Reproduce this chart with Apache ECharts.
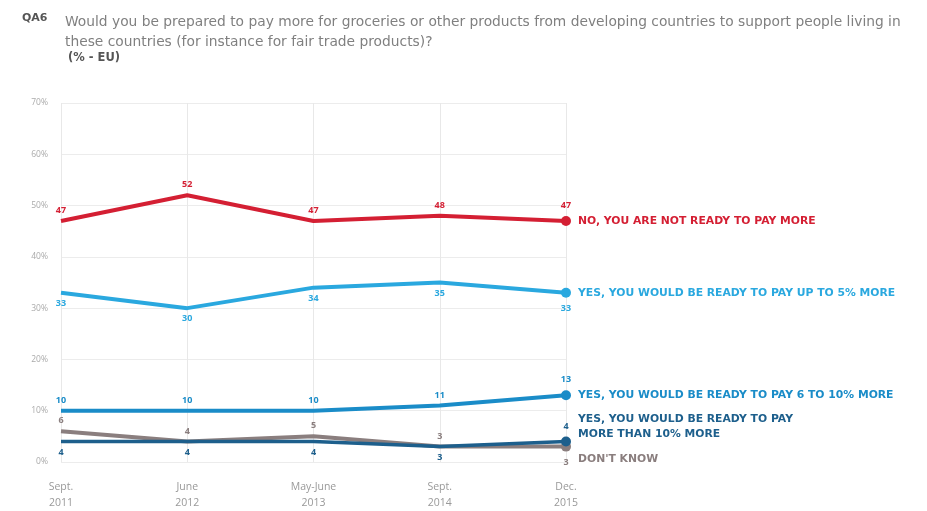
<!DOCTYPE html>
<html>
<head>
<meta charset="utf-8">
<script src="https://cdn.jsdelivr.net/npm/echarts@6/dist/echarts.min.js"></script>
<style>
  html, body { margin: 0; padding: 0; background: #fff; }
  #chart { width: 927px; height: 511px; }
</style>
</head>
<body>
<div id="chart"></div>
<script>
// Survey waves (two-line axis labels)
const waves = ['Sept.\n2011', 'June\n2012', 'May-June\n2013', 'Sept.\n2014', 'Dec.\n2015'];

// Answer shares, % of EU respondents
const notReady = [47, 52, 47, 48, 47];
const upTo5 = [33, 30, 34, 35, 33];
const from6to10 = [10, 10, 10, 11, 13];
const moreThan10 = [4, 4, 4, 3, 4];
const dontKnow = [6, 4, 5, 3, 3];

const seriesNames = [
  'NO, YOU ARE NOT READY TO PAY MORE',
  'YES, YOU WOULD BE READY TO PAY UP TO 5% MORE',
  'YES, YOU WOULD BE READY TO PAY 6 TO 10% MORE',
  'YES, YOU WOULD BE READY TO PAY\nMORE THAN 10% MORE',
  "DON'T KNOW"
];

const yTicks = [0, 10, 20, 30, 40, 50, 60, 70];

const FONT = '"Open Sans", "DejaVu Sans", sans-serif';
const WIDE = '"DejaVu Sans", sans-serif';

function lineSeries(name, values, color, width, labelPos, endOffset, zIndex) {
  const last = values.length - 1;
  return {
    name: name,
    type: 'line',
    smooth: false,
    z: zIndex,
    showSymbol: true,
    data: values.map((v, i) => ({
      value: v,
      symbol: 'circle',
      symbolSize: i === last ? 10 : 0,
      label: { position: labelPos[i] }
    })),
    lineStyle: { color: color, width: width },
    itemStyle: { color: color },
    label: {
      show: true,
      color: color,
      fontSize: 9,
      fontWeight: 'bold',
      fontFamily: FONT,
      distance: 6
    },
    endLabel: {
      show: true,
      formatter: name,
      color: color,
      fontSize: 10.8,
      fontWeight: 'bold',
      fontFamily: WIDE,
      distance: 12,
      offset: endOffset,
      lineHeight: 15
    },
    emphasis: { disabled: true },
    animation: false
  };
}

const chart = echarts.init(document.getElementById('chart'), null, { renderer: 'canvas' });

chart.setOption({
  animation: false,
  grid: { left: 61, right: 361, top: 103, bottom: 48, containLabel: false },
  graphic: [
    { type: 'text', left: 22, top: 13, style: { text: 'QA6', font: 'bold 11px ' + WIDE, fill: '#555' } },
    { type: 'text', left: 65, top: 12, style: {
        text: 'Would you be prepared to pay more for groceries or other products from developing countries to support people living in\nthese countries (for instance for fair trade products)?',
        font: '13.8px ' + WIDE, fill: '#808080', lineHeight: 20 } },
    { type: 'text', left: 68, top: 52, style: { text: '(% - EU)', font: 'bold 11.5px ' + WIDE, fill: '#555' } }
  ],
  xAxis: {
    type: 'category',
    data: waves,
    boundaryGap: false,
    axisLine: { show: false },
    axisTick: { show: false },
    axisLabel: { color: '#999', fontSize: 10.5, fontFamily: FONT, lineHeight: 16, margin: 17 },
    splitLine: { show: true, lineStyle: { color: '#e8e8e8', width: 1 } }
  },
  yAxis: {
    type: 'value',
    min: yTicks[0],
    max: yTicks[yTicks.length - 1],
    interval: 10,
    axisLine: { show: false },
    axisTick: { show: false },
    axisLabel: { color: '#aaa', fontSize: 8.5, fontFamily: FONT, formatter: '{value}%', margin: 13 },
    splitLine: { show: true, lineStyle: { color: '#ececec', width: 1 } }
  },
  series: [
    lineSeries(seriesNames[4], dontKnow, '#8a7e7e', 4, ['top', 'top', 'top', 'top', 'bottom'], [0, 13], 2),
    lineSeries(seriesNames[3], moreThan10, '#1d5f8c', 3.5, ['bottom', 'bottom', 'bottom', 'bottom', 'top'], [0, -15], 3),
    lineSeries(seriesNames[2], from6to10, '#1a8cc8', 4, ['top', 'top', 'top', 'top', 'top'], [0, 0], 4),
    lineSeries(seriesNames[1], upTo5, '#2aa8df', 4, ['bottom', 'bottom', 'bottom', 'bottom', 'bottom'], [0, 0], 5),
    lineSeries(seriesNames[0], notReady, '#d41f33', 4, ['top', 'top', 'top', 'top', 'top'], [0, 0], 6)
  ]
});
</script>
</body>
</html>
